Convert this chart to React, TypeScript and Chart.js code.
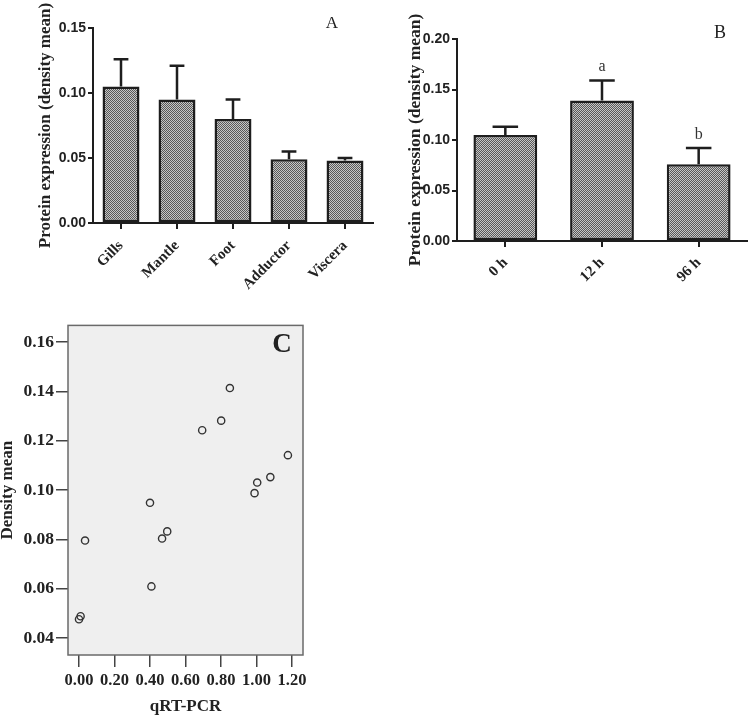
import React, { useEffect, useRef } from "react";
import { Chart, registerables } from "chart.js";
Chart.register(...registerables);

// ---- Panel A data ----
const tissueLabels = ["Gills", "Mantle", "Foot", "Adductor", "Viscera"];
const tissueMeans = [0.105, 0.095, 0.08, 0.049, 0.048];
const tissueErrors = [0.021, 0.026, 0.015, 0.006, 0.002];
const tissueTicks = [0, 0.05, 0.1, 0.15];

// ---- Panel B data ----
const timeLabels = ["0 h", "12 h", "96 h"];
const timeMeans = [0.105, 0.139, 0.076];
const timeErrors = [0.008, 0.02, 0.016];
const timeLetters = ["", "a", "b"];
const timeTicks = [0, 0.05, 0.1, 0.15, 0.2];

// ---- Panel C data ----
const qrtValues = [0.0, 0.009, 0.034, 0.4, 0.408, 0.468, 0.497, 0.694, 0.801, 0.85, 0.989, 1.004, 1.078, 1.177];
const densityValues = [0.0477, 0.0489, 0.0796, 0.0949, 0.061, 0.0804, 0.0833, 0.1243, 0.1282, 0.1414, 0.0988, 0.1031, 0.1053, 0.1142];
const qrtTicks = [0, 0.2, 0.4, 0.6, 0.8, 1.0, 1.2];
const densityTicks = [0.04, 0.06, 0.08, 0.1, 0.12, 0.14, 0.16];

const INK = "#1e1e1e";
const SANS = "'Liberation Sans', Arial, sans-serif";
const SERIF = "'Liberation Serif', 'Times New Roman', serif";

function makePattern(ctx: CanvasRenderingContext2D) {
  const c = document.createElement("canvas");
  c.width = 2;
  c.height = 2;
  const p = c.getContext("2d")!;
  p.fillStyle = "#c6c6c6";
  p.fillRect(0, 0, 2, 2);
  p.fillStyle = "#585858";
  p.fillRect(0, 0, 1, 1);
  p.fillRect(1, 1, 1, 1);
  return ctx.createPattern(c, "repeat");
}

function errorBarPlugin(errors: number[], letters?: string[]) {
  return {
    id: "errorBars",
    afterDatasetsDraw(chart: any) {
      const ctx = chart.ctx;
      const meta = chart.getDatasetMeta(0);
      const ys = chart.scales.y;
      const data = chart.data.datasets[0].data as number[];
      ctx.save();
      ctx.strokeStyle = INK;
      ctx.lineWidth = 2.5;
      meta.data.forEach((bar: any, i: number) => {
        const top = ys.getPixelForValue(data[i] + errors[i]);
        const half = bar.width * 0.2;
        ctx.beginPath();
        ctx.moveTo(bar.x, bar.y);
        ctx.lineTo(bar.x, top);
        ctx.moveTo(bar.x - half, top);
        ctx.lineTo(bar.x + half, top);
        ctx.stroke();
        if (letters && letters[i]) {
          ctx.fillStyle = "#333";
          ctx.font = `16px ${SERIF}`;
          ctx.textAlign = "center";
          ctx.textBaseline = "alphabetic";
          ctx.fillText(letters[i], bar.x, top - 9);
        }
      });
      ctx.restore();
    },
  };
}

function panelLabelPlugin(text: string, font: string, dx: number, dy: number) {
  return {
    id: "panelLabel",
    afterDraw(chart: any) {
      const { ctx, chartArea } = chart;
      ctx.save();
      ctx.fillStyle = "#222";
      ctx.font = font;
      ctx.textAlign = "center";
      ctx.textBaseline = "middle";
      ctx.fillText(text, chartArea.right + dx, chartArea.top + dy);
      ctx.restore();
    },
  };
}

const plotBgPlugin = {
  id: "plotBg",
  beforeDraw(chart: any) {
    const { ctx, chartArea: a } = chart;
    ctx.save();
    ctx.fillStyle = "#efefef";
    ctx.fillRect(a.left, a.top, a.right - a.left, a.bottom - a.top);
    ctx.restore();
  },
  afterDraw(chart: any) {
    const { ctx, chartArea: a } = chart;
    ctx.save();
    ctx.strokeStyle = "#6a6a6a";
    ctx.lineWidth = 1.5;
    ctx.strokeRect(a.left, a.top, a.right - a.left, a.bottom - a.top);
    ctx.restore();
  },
};

function barConfig(
  ctx: CanvasRenderingContext2D,
  labels: string[],
  means: number[],
  errors: number[],
  ticks: number[],
  yMax: number,
  yWidth: number,
  xHeight: number,
  padding: any,
  titleSize: number,
  xPad: number,
  letters: string[] | undefined
): any {
  return {
    type: "bar",
    data: {
      labels,
      datasets: [
        {
          data: means,
          backgroundColor: makePattern(ctx),
          borderColor: INK,
          borderWidth: 2.5,
          borderSkipped: false,
          categoryPercentage: 1,
          barPercentage: 0.66,
        },
      ],
    },
    options: {
      responsive: false,
      animation: false,
      layout: { padding },
      plugins: { legend: { display: false }, tooltip: { enabled: false } },
      scales: {
        x: {
          offset: true,
          afterFit: (s: any) => {
            s.height = xHeight;
          },
          grid: { offset: false, drawOnChartArea: false, drawTicks: true, tickLength: 6, color: INK, lineWidth: 2 },
          border: { display: true, color: INK, width: 2 },
          ticks: {
            minRotation: 45,
            maxRotation: 45,
            autoSkip: false,
            padding: xPad,
            color: "#222",
            font: { family: SERIF, size: 15, weight: "bold" },
          },
        },
        y: {
          min: 0,
          max: yMax,
          afterBuildTicks: (s: any) => {
            s.ticks = ticks.map((v) => ({ value: v }));
          },
          afterFit: (s: any) => {
            s.width = yWidth;
          },
          grid: { drawOnChartArea: false, drawTicks: true, tickLength: 5, color: INK, lineWidth: 2 },
          border: { display: true, color: INK, width: 2 },
          ticks: {
            padding: 2,
            color: "#222",
            font: { family: SANS, size: 14, weight: "bold" },
            callback: (v: any) => Number(v).toFixed(2),
          },
          title: {
            display: true,
            text: "Protein expression (density mean)",
            color: "#222",
            font: { family: SERIF, size: titleSize, weight: "bold" },
            padding: { top: 4, bottom: 0 },
          },
        },
      },
    },
    plugins: [errorBarPlugin(errors, letters)],
  };
}

function PanelA() {
  const ref = useRef<HTMLCanvasElement>(null);
  useEffect(() => {
    const ctx = ref.current!.getContext("2d")!;
    const cfg = barConfig(ctx, tissueLabels, tissueMeans, tissueErrors, tissueTicks, 0.15, 62, 77,
      { left: 31, right: 2, top: 28, bottom: 0 }, 17, 8, undefined);
    cfg.plugins.push(panelLabelPlugin("A", `17px ${SERIF}`, -41, -4));
    const chart = new Chart(ctx, cfg);
    return () => chart.destroy();
  }, []);
  return <canvas ref={ref} width={375} height={300} style={{ position: "absolute", left: 0, top: 0 }} />;
}

function PanelB() {
  const ref = useRef<HTMLCanvasElement>(null);
  useEffect(() => {
    const ctx = ref.current!.getContext("2d")!;
    const cfg = barConfig(ctx, timeLabels, timeMeans, timeErrors, timeTicks, 0.2, 56, 59,
      { left: 26, right: 3, top: 39, bottom: 0 }, 17.5, 7, timeLetters);
    cfg.plugins.push(panelLabelPlugin("B", `18px ${SERIF}`, -27, -6));
    const chart = new Chart(ctx, cfg);
    return () => chart.destroy();
  }, []);
  return <canvas ref={ref} width={375} height={300} style={{ position: "absolute", left: 375, top: 0 }} />;
}

function PanelC() {
  const ref = useRef<HTMLCanvasElement>(null);
  useEffect(() => {
    const ctx = ref.current!.getContext("2d")!;
    const chart = new Chart(ctx, {
      type: "scatter",
      data: {
        datasets: [
          {
            data: qrtValues.map((x, i) => ({ x, y: densityValues[i] })),
            pointRadius: 3.6,
            pointBorderWidth: 1.4,
            borderColor: "#333",
            backgroundColor: "rgba(0,0,0,0)",
            pointStyle: "circle",
          },
        ],
      },
      options: {
        responsive: false,
        animation: false,
        layout: { padding: { left: 0, right: 27, top: 0, bottom: 0 } },
        plugins: { legend: { display: false }, tooltip: { enabled: false } },
        scales: {
          x: {
            type: "linear",
            min: -0.062,
            max: 1.262,
            afterBuildTicks: (s: any) => {
              s.ticks = qrtTicks.map((v) => ({ value: v }));
            },
            afterFit: (s: any) => {
              s.height = 62;
              s.paddingLeft = 0;
              s.paddingRight = 0;
            },
            grid: { drawOnChartArea: false, drawTicks: true, tickLength: 12, color: "#444", lineWidth: 1.5 },
            border: { display: false },
            ticks: {
              minRotation: 0,
              maxRotation: 0,
              autoSkip: false,
              padding: 4,
              color: "#222",
              font: { family: SERIF, size: 16.5, weight: "bold" } as any,
              callback: (v: any) => Number(v).toFixed(2),
            },
            title: {
              display: true,
              text: "qRT-PCR",
              color: "#222",
              font: { family: SERIF, size: 17, weight: "bold" },
              padding: { top: 0, bottom: 0 },
            },
          },
          y: {
            min: 0.0332,
            max: 0.1668,
            afterBuildTicks: (s: any) => {
              s.ticks = densityTicks.map((v) => ({ value: v }));
            },
            afterFit: (s: any) => {
              s.width = 68;
              s.paddingTop = 0;
              s.paddingBottom = 0;
            },
            grid: { drawOnChartArea: false, drawTicks: true, tickLength: 12, color: "#444", lineWidth: 1.5 },
            border: { display: false },
            ticks: {
              padding: 2,
              color: "#222",
              font: { family: SERIF, size: 17.5, weight: "bold" } as any,
              callback: (v: any) => Number(v).toFixed(2),
            },
            title: {
              display: true,
              text: "Density mean",
              color: "#222",
              font: { family: SERIF, size: 17, weight: "bold", lineHeight: 0.9 },
              padding: { top: 0, bottom: 0 },
            },
          },
        },
      },
      plugins: [plotBgPlugin, panelLabelPlugin("C", `bold 27px ${SERIF}`, -21, 20)],
    } as any);
    return () => chart.destroy();
  }, []);
  return <canvas ref={ref} width={330} height={397} style={{ position: "absolute", left: 0, top: 320 }} />;
}

export default function App() {
  return (
    <div style={{ position: "absolute", left: 0, top: 0, width: 750, height: 717, background: "#fff" }}>
      <PanelA />
      <PanelB />
      <PanelC />
    </div>
  );
}
